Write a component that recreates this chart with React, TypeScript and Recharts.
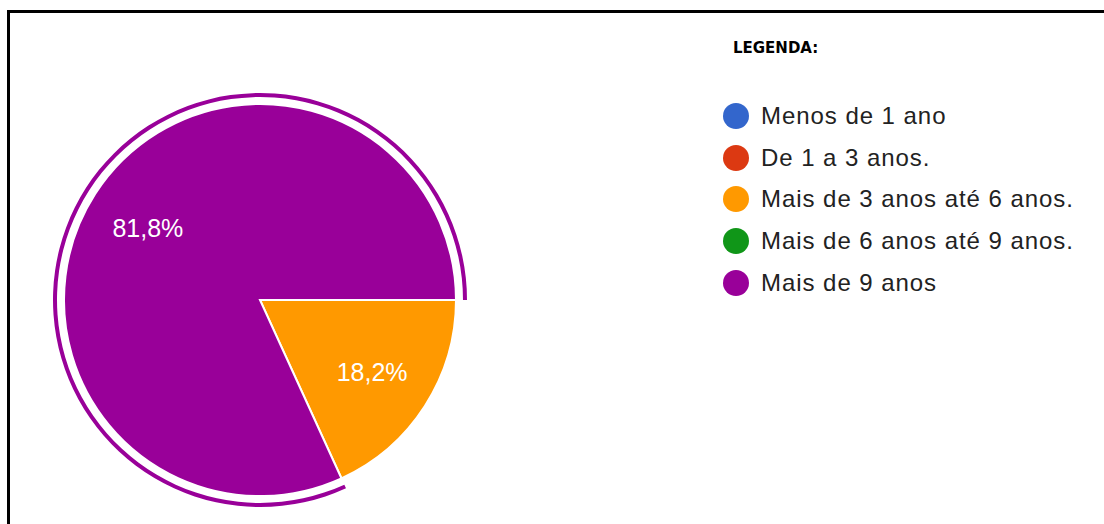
import { PieChart, Pie, Cell } from 'recharts';

const categories = [
  'Menos de 1 ano',
  'De 1 a 3 anos.',
  'Mais de 3 anos até 6 anos.',
  'Mais de 6 anos até 9 anos.',
  'Mais de 9 anos',
];
const counts = [0, 0, 2, 0, 9];
const colors = ['#3366cc', '#dc3912', '#ff9900', '#109618', '#990099'];
const highlighted = 'Mais de 9 anos';

const data = categories.map((name, i) => ({ name, value: counts[i], fill: colors[i] }));

const RAD = Math.PI / 180;

const renderLabel = (props: any) => {
  const { cx, cy, midAngle, outerRadius, percent, value } = props;
  if (!value) return null;
  const r = outerRadius * 0.68;
  const x = cx + r * Math.cos(-midAngle * RAD);
  const y = cy + r * Math.sin(-midAngle * RAD);
  return (
    <text
      x={x}
      y={y}
      fill="#ffffff"
      fontSize={25}
      fontFamily="'Liberation Sans', Arial, sans-serif"
      textAnchor="middle"
      dominantBaseline="central"
    >
      {(percent * 100).toFixed(1).replace('.', ',')}%
    </text>
  );
};

function ChartLegend() {
  return (
    <div
      style={{
        position: 'absolute',
        left: 723,
        top: 0,
        width: 380,
        fontFamily: "'Liberation Sans', Arial, sans-serif",
      }}
    >
      <div
        style={{
          marginTop: 38,
          marginLeft: 10,
          height: 20,
          lineHeight: '20px',
          fontFamily: "'DejaVu Sans', Verdana, sans-serif",
          fontWeight: 'bold',
          fontSize: 15,
          color: '#000',
        }}
      >
        LEGENDA:
      </div>
      <div style={{ marginTop: 37 }}>
        {data.map((item) => (
          <div key={item.name} style={{ display: 'flex', alignItems: 'center', height: 41.7 }}>
            <div style={{ width: 26, height: 26, borderRadius: '50%', background: item.fill }} />
            <span style={{ marginLeft: 12, fontSize: 24, letterSpacing: 0.95, color: '#222222' }}>
              {item.name}
            </span>
          </div>
        ))}
      </div>
    </div>
  );
}

export default function App() {
  return (
    <div style={{ position: 'absolute', left: 0, top: 0, width: 1104, height: 524, background: '#fff' }}>
      <div
        style={{
          position: 'absolute',
          left: 7,
          top: 10,
          width: 1097,
          height: 514,
          borderTop: '3px solid #000',
          borderLeft: '3px solid #000',
          boxSizing: 'border-box',
        }}
      />
      <div style={{ position: 'absolute', left: 0, top: 0 }}>
        <PieChart width={1104} height={524} margin={{ top: 0, right: 0, bottom: 0, left: 0 }}>
          <Pie
            data={data}
            dataKey="value"
            nameKey="name"
            cx={260}
            cy={300}
            outerRadius={196}
            startAngle={0}
            endAngle={-360}
            stroke="#ffffff"
            strokeWidth={2}
            label={renderLabel}
            labelLine={false}
            isAnimationActive={false}
          >
            {data.map((d) => (
              <Cell key={d.name} fill={d.fill} />
            ))}
          </Pie>
          <Pie
            data={data}
            dataKey="value"
            nameKey="name"
            cx={260}
            cy={300}
            innerRadius={203}
            outerRadius={207}
            startAngle={0}
            endAngle={-360}
            stroke="none"
            legendType="none"
            isAnimationActive={false}
          >
            {data.map((d) => (
              <Cell key={d.name} fill={d.name === highlighted ? d.fill : 'none'} />
            ))}
          </Pie>
        </PieChart>
      </div>
      <ChartLegend />
    </div>
  );
}
